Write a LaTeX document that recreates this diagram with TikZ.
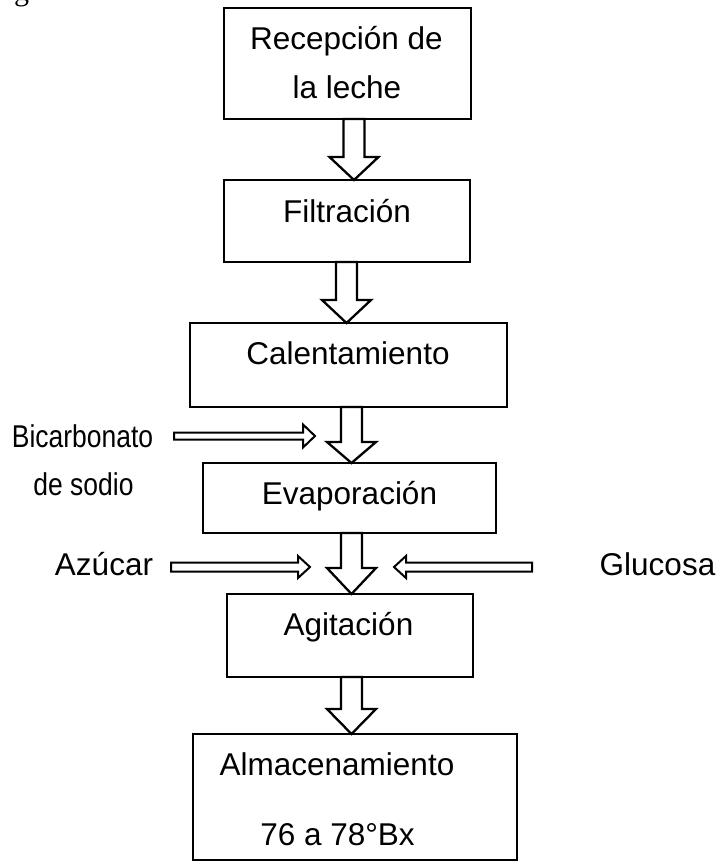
\documentclass[tikz,border=0pt]{standalone}
\usepackage{fontspec}
\usepackage{graphicx}
\setmainfont{Liberation Sans}
\newfontfamily\seriffont{Liberation Serif}
\usetikzlibrary{calc}
\tikzset{
  box/.style={draw, line width=2.4pt, rectangle, outer sep=0pt, inner sep=0pt},
  lbl/.style={font=\fontsize{31.5}{36}\selectfont, anchor=base, inner sep=0pt},
  blk/.style={draw, line width=2.3pt, fill=white, line join=miter},
  sblk/.style={draw, line width=2pt, fill=white, line join=miter},
}
\newcommand\blockdn[4]{%
  \draw[blk] let \p1=(#1.south), \p2=(#2.north) in
    (#3pt-10.5pt,\y1) -- (#3pt-10.5pt,\y2+#4pt) -- (#3pt-24.5pt,\y2+#4pt) --
    (#3pt,\y2) -- (#3pt+24.5pt,\y2+#4pt) -- (#3pt+10.5pt,\y2+#4pt) --
    (#3pt+10.5pt,\y1) -- cycle;}
\newcommand\sidearr[5]{%
  \draw[sblk] let \p1=(#1), \p2=(#2), \p3=($(#2)!#3pt!(#1)$) in
    (\x1,\y1+#4pt) -- (\x3,\y1+#4pt) -- (\x3,\y1+#5pt) -- (\x2,\y2) --
    (\x3,\y1-#5pt) -- (\x3,\y1-#4pt) -- (\x1,\y1-#4pt) -- cycle;}
\begin{document}
\begin{tikzpicture}[x=1pt,y=-1pt]
\useasboundingbox (0,0) rectangle (719,863);
% fragment of text at top left
\node[font=\seriffont\fontsize{30}{30}\selectfont, anchor=base west, inner sep=0pt] (frag) at (14,0) {g};
% boxes
\node[box, minimum width=247pt, minimum height=111pt] (b1) at (347.5,63.5) {};
\node[box, minimum width=246pt, minimum height=82pt] (b2) at (347,221) {};
\node[box, minimum width=317pt, minimum height=84pt] (b3) at (348.5,365) {};
\node[box, minimum width=293pt, minimum height=70pt] (b4) at (349.5,498) {};
\node[box, minimum width=246pt, minimum height=83pt] (b5) at (350,635.5) {};
\node[box, minimum width=324pt, minimum height=126pt] (b6) at (355,797) {};
% texts in boxes
\node[lbl] (t1a) at (346.5,49) {Recepción de};
\node[lbl] (t1b) at (347,98) {la leche};
\node[lbl] (t2) at (347,222) {Filtración};
\node[lbl] (t3) at (348,364) {Calentamiento};
\node[lbl] (t4) at (349.5,504) {Evaporación};
\node[lbl] (t5) at (348.5,635) {Agitación};
\node[lbl] (t6a) at (337,775) {Almacenamiento};
\node[lbl] (t6b) at (337.5,845) {76 a 78°Bx};
% side texts
\node[lbl] (bic1) at (82.5,447) {\scalebox{0.84}[1]{Bicarbonato}};
\node[lbl] (bic2) at (83.5,495) {\scalebox{0.84}[1]{de sodio}};
\node[lbl] (az) at (104,575) {Azúcar};
\node[lbl] (gl) at (657.5,575) {Glucosa};
% block arrows between boxes
\blockdn{b1}{b2}{354}{23}
\blockdn{b2}{b3}{346.5}{23}
\blockdn{b3}{b4}{351.5}{21}
\blockdn{b4}{b5}{351.5}{26}
\blockdn{b5}{b6}{351.5}{25}
% side arrows
\coordinate (bt) at (174,436);
\coordinate (bh) at (315,436);
\coordinate (at) at (171,567);
\coordinate (ah) at (310,567);
\coordinate (gt) at (532,567);
\coordinate (gh) at (394,567);
\sidearr{bt}{bh}{12}{3.5}{11.5}
\sidearr{at}{ah}{12}{4.5}{11}
\sidearr{gt}{gh}{12}{4.5}{11}
\end{tikzpicture}
\end{document}
